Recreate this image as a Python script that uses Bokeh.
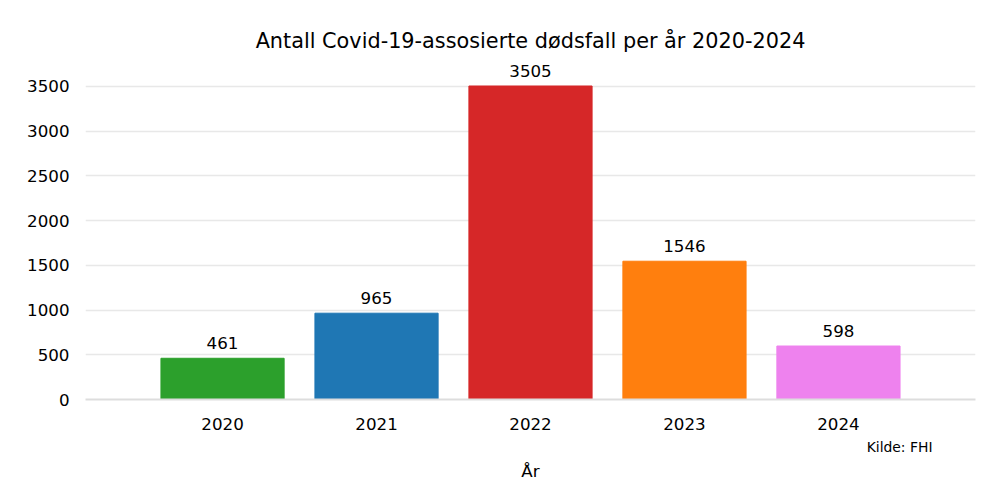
from bokeh.plotting import figure
from bokeh.models import ColumnDataSource, FixedTicker, Range1d, Title
from bokeh.embed import file_html
from bokeh.resources import INLINE
from bokeh.core.properties import value

years = ["2020", "2021", "2022", "2023", "2024"]
deaths = [461, 965, 3505, 1546, 598]
colors = ["#2ca02c", "#1f77b4", "#d62728", "#ff7f0e", "#ee82ee"]
y_ticks = [0, 500, 1000, 1500, 2000, 2500, 3000, 3500]

xs = list(range(len(years)))
src = ColumnDataSource(dict(x=xs, y=deaths, color=colors, label=[str(d) for d in deaths]))

FONT = "DejaVu Sans"

p = figure(width=984, height=484, output_backend="svg", toolbar_location=None,
           x_range=Range1d(-0.89, 4.89), y_range=Range1d(0, 3835),
           min_border_left=85, min_border_right=9, min_border_top=56, min_border_bottom=85)

p.vbar(x="x", top="y", width=0.8, color="color", source=src)
p.text(x="x", y="y", text="label", source=src, text_align="center", text_baseline="bottom",
       y_offset=-9, text_font=value(FONT), text_font_size="16.7px", text_color="#000000")

p.title.text = "Antall Covid-19-assosierte dødsfall per år 2020-2024"
p.title.align = "center"
p.title.text_font = FONT
p.title.text_font_size = "20.8px"
p.title.text_font_style = "normal"
p.title.text_color = "#000000"
p.title.standoff = 7

p.outline_line_color = None
p.xgrid.grid_line_color = None
p.ygrid.ticker = FixedTicker(ticks=y_ticks)
p.ygrid.grid_line_color = "#e8e8e8"
p.ygrid.grid_line_width = 1.6

p.xaxis.ticker = FixedTicker(ticks=xs)
p.xaxis.major_label_overrides = {i: y for i, y in enumerate(years)}
p.xaxis.axis_line_color = "#dddddd"
p.xaxis.axis_line_width = 2
p.xaxis.major_tick_line_color = None
p.xaxis.minor_tick_line_color = None
p.xaxis.major_label_standoff = 12
p.xaxis.major_label_text_font = FONT
p.xaxis.major_label_text_font_size = "16.7px"
p.xaxis.major_label_text_color = "#000000"

p.yaxis.ticker = FixedTicker(ticks=y_ticks)
p.yaxis.axis_line_color = None
p.yaxis.major_tick_line_color = None
p.yaxis.minor_tick_line_color = None
p.yaxis.major_label_standoff = 10
p.yaxis.major_label_text_font = FONT
p.yaxis.major_label_text_font_size = "16.7px"
p.yaxis.major_label_text_color = "#000000"

source_note = Title(text="Kilde: FHI", align="right", offset=43, standoff=8,
                    text_font=FONT, text_font_size="13.9px", text_font_style="normal",
                    text_color="#000000")
p.add_layout(source_note, "below")

x_label = Title(text="År", align="center", standoff=0,
                text_font=FONT, text_font_size="16.7px", text_font_style="normal",
                text_color="#000000")
p.add_layout(x_label, "below")

open("out.html", "w").write(file_html(p, INLINE))
